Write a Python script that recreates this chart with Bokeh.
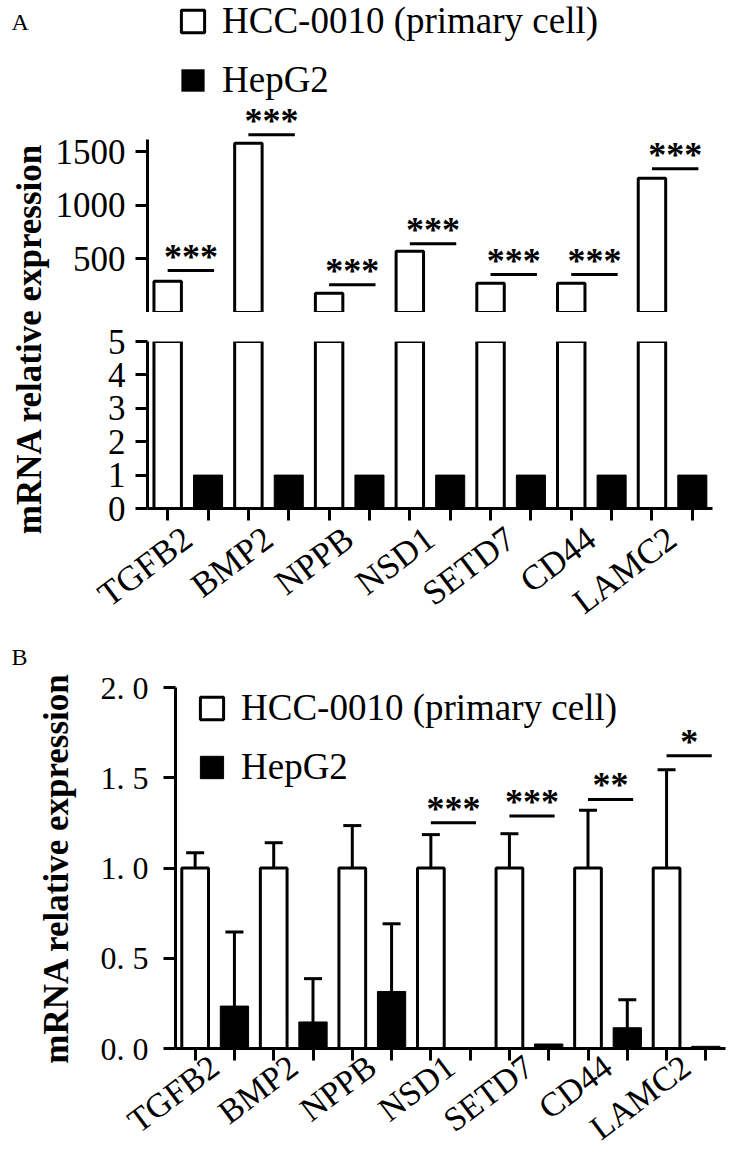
import math
import numpy as np
from bokeh.plotting import figure
from bokeh.models import (ColumnDataSource, Range1d, FixedTicker, Legend, LegendItem,
                          Label, Whisker, TeeHead, Spacer)
from bokeh.layouts import column, row
from bokeh.embed import file_html
from bokeh.resources import INLINE
from bokeh.core.properties import value

# ---------------- data ----------------
genes = ["TGFB2", "BMP2", "NPPB", "NSD1", "SETD7", "CD44", "LAMC2"]
series = ["HCC-0010 (primary cell)", "HepG2"]

# Panel A (broken axis)
a_hcc = [292, 1578, 180, 571, 273, 273, 1252]
a_hep = [1.0, 1.0, 1.0, 1.0, 1.0, 1.0, 1.0]
a_sig_y = [391, 1656, 258, 640, 354, 354, 1339]
a_sig_text = ["***", "***", "***", "***", "***", "***", "***"]
a_upper_ticks = [500, 1000, 1500]
a_lower_ticks = [0, 1, 2, 3, 4, 5]

# Panel B
b_hcc = [1.0, 1.0, 1.0, 1.0, 1.0, 1.0, 1.0]
b_hcc_err = [0.085, 0.14, 0.235, 0.185, 0.19, 0.32, 0.545]
b_hep = [0.235, 0.147, 0.316, 0.005, 0.025, 0.115, 0.012]
b_hep_err = [0.41, 0.24, 0.375, 0.0, 0.0, 0.155, 0.0]
b_sig_genes = ["NSD1", "SETD7", "CD44", "LAMC2"]
b_sig_y = [1.251, 1.288, 1.38, 1.622]
b_sig_text = ["***", "***", "**", "*"]
b_ticks = [0.0, 0.5, 1.0, 1.5, 2.0]
b_tick_labels = ["0. 0", "0. 5", "1. 0", "1. 5", "2. 0"]

ylabel = "mRNA relative expression"

# ---------------- styling ----------------
SERIF = "Liberation Serif"
W_BAR = 0.68
B_BAR = 0.72
SIG_LEN = 1.15
BREAK_PAD = 300       # white bars of the upper segment continue below the break
A_UPPER_END = 2907

idx = np.arange(len(genes))
x_hcc = 2 * idx
x_hep = 2 * idx + 1


def base_fig(w, h, xr, yr, ml, mr, mt, mb, **kw):
    p = figure(width=w, height=h, x_range=xr, y_range=yr, toolbar_location=None,
               output_backend="svg", min_border_left=ml, min_border_right=mr,
               min_border_top=mt, min_border_bottom=mb, title=None, **kw)
    p.grid.visible = False
    p.outline_line_color = None
    p.background_fill_color = "white"
    p.border_fill_color = "white"
    return p


def style_y(ax, ticks, size="35px"):
    ax.ticker = FixedTicker(ticks=ticks)
    ax.axis_line_width = 3
    ax.major_tick_line_width = 3
    ax.major_tick_out = 12
    ax.major_tick_in = 0
    ax.minor_tick_line_color = None
    ax.major_label_text_font = SERIF
    ax.major_label_text_font_size = size
    ax.major_label_text_color = "black"
    ax.major_label_standoff = 10


def style_x(ax, size, standoff):
    centers = [float(2 * i + 0.5) for i in range(len(genes))]
    ax.ticker = FixedTicker(ticks=centers, minor_ticks=[float(v) for v in range(2 * len(genes))])
    ax.major_label_overrides = {c: g for c, g in zip(centers, genes)}
    ax.axis_line_width = 3
    ax.major_tick_out = 0
    ax.major_tick_in = 0
    ax.major_tick_line_color = None
    ax.minor_tick_out = 12
    ax.minor_tick_in = 0
    ax.minor_tick_line_width = 3
    ax.minor_tick_line_color = "black"
    ax.major_label_orientation = math.radians(37)
    ax.major_label_text_font = SERIF
    ax.major_label_text_font_size = size
    ax.major_label_text_color = "black"
    ax.major_label_standoff = standoff


def add_sig(p, xs, ys, texts):
    src = ColumnDataSource(dict(x0=xs, x1=[x + SIG_LEN for x in xs], y=ys,
                                xc=[x + SIG_LEN / 2 for x in xs], t=texts))
    p.segment(x0="x0", x1="x1", y0="y", y1="y", source=src, line_width=3, line_color="black")
    p.text(x="xc", y="y", text="t", source=src, text_align="center", text_baseline="alphabetic",
           y_offset=-14, text_font=value(SERIF), text_font_size="36px", text_font_style="bold",
           text_color="black")


def make_legend(rw, rb, loc):
    return Legend(items=[LegendItem(label=series[0], renderers=[rw]),
                         LegendItem(label=series[1], renderers=[rb])],
                  location=loc, orientation="vertical", padding=0, margin=0, spacing=16,
                  glyph_width=29, glyph_height=28, label_standoff=15,
                  label_text_font=SERIF, label_text_font_size="37px",
                  label_text_color="black",
                  border_line_color=None, background_fill_alpha=0)


xr_a = Range1d(-0.5, 13.5)

# ---------------- panel A: upper segment ----------------
pa_top = base_fig(689, 312, xr_a, Range1d(0, A_UPPER_END), 95, 29, 0, 0,
                  x_axis_location=None)
src_aw_top = ColumnDataSource(dict(x=x_hcc, top=a_hcc, bottom=[-BREAK_PAD] * len(genes)))
src_aw = ColumnDataSource(dict(x=x_hcc, top=a_hcc))
src_ab = ColumnDataSource(dict(x=x_hep, top=a_hep))
rw = pa_top.vbar(x="x", top="top", bottom="bottom", width=W_BAR, source=src_aw_top,
                 fill_color="white", line_color="black", line_width=3)
rb = pa_top.vbar(x="x", top="top", bottom=0, width=B_BAR, source=src_ab,
                 fill_color="black", line_color=None)
style_y(pa_top.yaxis[0], a_upper_ticks)
pa_top.yaxis[0].bounds = (0, 1610)
add_sig(pa_top, list(x_hcc.astype(float)), a_sig_y, a_sig_text)
pa_top.add_layout(make_legend(rw, rb, (31, 211)))

# ---------------- panel A: lower segment ----------------
pa_bot = base_fig(689, 318, xr_a, Range1d(0, 5), 95, 29, 19, 128)
pa_bot.vbar(x="x", top="top", bottom=0, width=W_BAR, source=src_aw,
            fill_color="white", line_color="black", line_width=3)
pa_bot.vbar(x="x", top="top", bottom=0, width=B_BAR, source=src_ab,
            fill_color="black", line_color="black", line_width=1)
style_y(pa_bot.yaxis[0], a_lower_ticks)
style_x(pa_bot.xaxis[0], "35px", 14)

# ---------------- panel A label column ----------------
lfa = figure(width=52, height=640, x_range=Range1d(0, 52), y_range=Range1d(0, 640),
             min_border=0, toolbar_location=None, output_backend="svg",
             x_axis_location=None, y_axis_location=None, title=None)
lfa.grid.visible = False
lfa.outline_line_color = None
lfa.add_layout(Label(x=11, y=606, text="A", text_font=SERIF, text_font_size="24px",
                     text_baseline="bottom", text_color="black"))
lfa.add_layout(Label(x=29, y=302, text=ylabel, angle=math.pi / 2, text_align="center",
                     text_baseline="middle", text_font=SERIF, text_font_size="35px",
                     text_font_style="bold", text_color="black"))

# ---------------- panel B label column ----------------
lfb = figure(width=30, height=524, x_range=Range1d(0, 30), y_range=Range1d(0, 524),
             min_border=0, toolbar_location=None, output_backend="svg",
             x_axis_location=None, y_axis_location=None, title=None)
lfb.grid.visible = False
lfb.outline_line_color = None
lfb.add_layout(Label(x=11, y=495, text="B", text_font=SERIF, text_font_size="24px",
                     text_baseline="bottom", text_color="black"))

# ---------------- panel B ----------------
pb = base_fig(711, 524, Range1d(-0.5, 13.5), Range1d(0, 2.0), 145, 16, 47, 114)
src_bw = ColumnDataSource(dict(x=x_hcc, top=b_hcc, up=[v + e for v, e in zip(b_hcc, b_hcc_err)]))
src_bb = ColumnDataSource(dict(x=x_hep, top=b_hep))
rbw = pb.vbar(x="x", top="top", bottom=0, width=W_BAR, source=src_bw,
              fill_color="white", line_color="black", line_width=3)
rbb = pb.vbar(x="x", top="top", bottom=0, width=B_BAR, source=src_bb,
              fill_color="black", line_color="black", line_width=1)
keep = [i for i, e in enumerate(b_hep_err) if e > 0]
src_bbe = ColumnDataSource(dict(x=[int(x_hep[i]) for i in keep], top=[b_hep[i] for i in keep],
                                up=[b_hep[i] + b_hep_err[i] for i in keep]))
for s in (src_bw, src_bbe):
    pb.add_layout(Whisker(source=s, base="x", lower="top", upper="up", line_width=3,
                          line_color="black", lower_head=None,
                          upper_head=TeeHead(size=18, line_width=3, line_color="black")))
style_y(pb.yaxis[0], b_ticks, size="32px")
pb.yaxis[0].major_label_overrides = {t: l for t, l in zip(b_ticks, b_tick_labels)}
pb.yaxis[0].major_label_standoff = 15
pb.yaxis[0].axis_label = ylabel
pb.yaxis[0].axis_label_text_font = SERIF
pb.yaxis[0].axis_label_text_font_size = "35px"
pb.yaxis[0].axis_label_text_font_style = "bold"
pb.yaxis[0].axis_label_text_color = "black"
pb.yaxis[0].axis_label_standoff = 22
style_x(pb.xaxis[0], "34px", 2)
bx = [float(x_hcc[genes.index(g)]) for g in b_sig_genes]
add_sig(pb, bx, b_sig_y, b_sig_text)
pb.add_layout(make_legend(rbw, rbb, (22, 260)))

col_a = column(pa_top, Spacer(width=689, height=10), pa_bot)
layout = column(row(lfa, col_a), row(lfb, column(pb)))
open("out.html", "w").write(file_html(layout, INLINE, title="mRNA relative expression"))
